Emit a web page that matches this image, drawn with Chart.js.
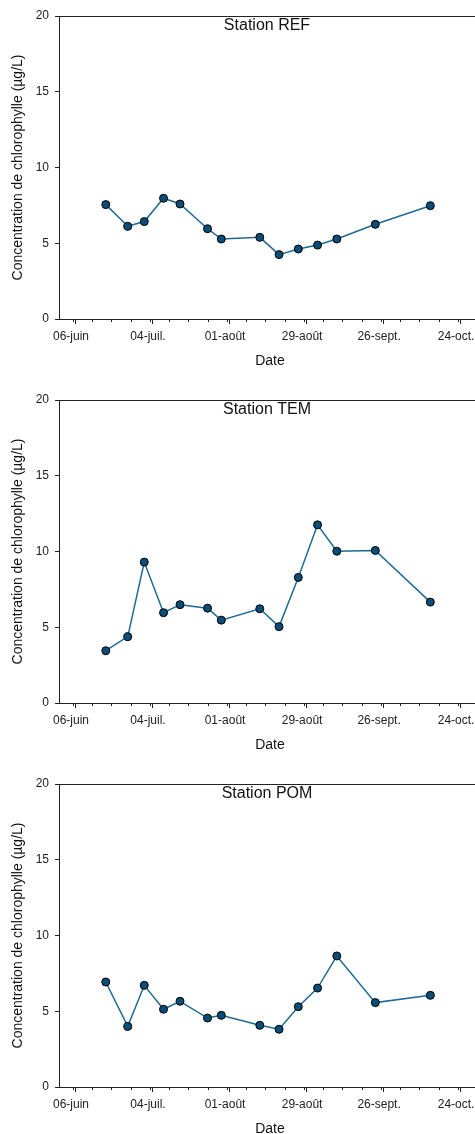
<!DOCTYPE html>
<html>
<head>
<meta charset="utf-8">
<script src="https://cdn.jsdelivr.net/npm/chart.js@4/dist/chart.umd.min.js"></script>
<style>
    body { margin: 0; background: #fff; overflow: hidden; width: 475px; }
    canvas { display: block; }
</style>
</head>
<body>
<canvas id="chartREF" width="525" height="384"></canvas>
<canvas id="chartTEM" width="525" height="384"></canvas>
<canvas id="chartPOM" width="525" height="384"></canvas>
<script>
// sampling days, counted from 06-juin
const sampleDays = [11, 19, 25, 32, 38, 48, 53, 67, 74, 81, 88, 95, 109, 129];

const refValues = [7.55, 6.12, 6.43, 7.97, 7.59, 5.96, 5.28, 5.39, 4.25, 4.62, 4.88, 5.28, 6.25, 7.48];
const temValues = [3.45, 4.38, 9.30, 5.96, 6.49, 6.26, 5.47, 6.22, 5.04, 8.29, 11.76, 10.02, 10.07, 6.66];
const pomValues = [6.93, 4.00, 6.71, 5.13, 5.66, 4.55, 4.73, 4.07, 3.81, 5.30, 6.53, 8.65, 5.57, 6.05];

const tickDays = [0, 28, 56, 84, 112, 140];
const tickLabels = ['06-juin', '04-juil.', '01-août', '29-août', '26-sept.', '24-oct.'];

const stations = [
    { id: 'chartREF', name: 'Station REF', values: refValues },
    { id: 'chartTEM', name: 'Station TEM', values: temValues },
    { id: 'chartPOM', name: 'Station POM', values: pomValues }
];

const FONT = '"Liberation Sans", Arial, sans-serif';
const AXIS_COLOR = '#222';
const VIEW_WIDTH = 475; // the page only shows this much of each panel

// station name, x title, top frame line and weekly minor ticks
const panelDecor = {
    id: 'panelDecor',
    afterDraw(chart, args, opts) {
        const { ctx, chartArea } = chart;
        const x = chart.scales.x;
        ctx.save();
        ctx.strokeStyle = AXIS_COLOR;
        ctx.lineWidth = 1;
        ctx.beginPath();
        ctx.moveTo(chartArea.left, chartArea.top + 0.5);
        ctx.lineTo(chartArea.right, chartArea.top + 0.5);
        for (let d = -1; d <= x.max; d += 7) {
            const px = Math.round(x.getPixelForValue(d)) + 0.5;
            if (px < chartArea.left) continue;
            ctx.moveTo(px, chartArea.bottom);
            ctx.lineTo(px, chartArea.bottom + 3);
        }
        ctx.stroke();

        const mid = (chartArea.left + Math.min(chartArea.right, VIEW_WIDTH)) / 2;
        ctx.fillStyle = '#111';
        ctx.textAlign = 'center';
        ctx.textBaseline = 'middle';
        ctx.font = '16px ' + FONT;
        ctx.fillText(opts.text, mid, chartArea.top + 10);
        ctx.font = '14px ' + FONT;
        ctx.fillText('Date', mid + 3, chartArea.bottom + 42);
        ctx.restore();
    }
};

function makeChart(station) {
    const ctx = document.getElementById(station.id).getContext('2d');
    const points = sampleDays.map((d, i) => ({ x: d, y: station.values[i] }));

    return new Chart(ctx, {
        type: 'line',
        data: {
            datasets: [{
                data: points,
                borderColor: '#1d6a95',
                borderWidth: 1.5,
                backgroundColor: '#0a4e78',
                pointBackgroundColor: '#0a4e78',
                pointBorderColor: '#000',
                pointBorderWidth: 1,
                pointRadius: 4,
                fill: false,
                tension: 0
            }]
        },
        plugins: [panelDecor],
        options: {
            responsive: false,
            animation: false,
            devicePixelRatio: 1,
            layout: { padding: { top: 16, right: 0, bottom: 0, left: 0 } },
            scales: {
                x: {
                    type: 'linear',
                    min: -6,
                    max: 161.6,
                    afterBuildTicks: (scale) => {
                        scale.ticks = tickDays.map(v => ({ value: v }));
                    },
                    afterFit: (scale) => {
                        scale.height = 65;
                    },
                    grid: {
                        drawOnChartArea: false,
                        drawTicks: true,
                        tickLength: 5,
                        color: AXIS_COLOR
                    },
                    border: { color: AXIS_COLOR, width: 1 },
                    ticks: {
                        autoSkip: false,
                        maxRotation: 0,
                        padding: 5,
                        labelOffset: -4.5,
                        color: '#222',
                        font: { family: FONT, size: 12 },
                        callback: (value) => tickLabels[tickDays.indexOf(value)]
                    },
                    title: { display: false }
                },
                y: {
                    min: 0,
                    max: 20,
                    afterFit: (scale) => {
                        scale.width = 59;
                    },
                    grid: {
                        drawOnChartArea: false,
                        drawTicks: true,
                        tickLength: 4,
                        color: AXIS_COLOR
                    },
                    border: { color: AXIS_COLOR, width: 1 },
                    ticks: {
                        stepSize: 5,
                        padding: 6,
                        color: '#222',
                        font: { family: FONT, size: 12 }
                    },
                    title: {
                        display: true,
                        text: 'Concentration de chlorophylle (µg/L)',
                        color: '#111',
                        font: { family: FONT, size: 14 },
                        padding: { top: 9.6, bottom: 0 }
                    }
                }
            },
            plugins: {
                legend: { display: false },
                tooltip: { enabled: false },
                panelDecor: { text: station.name }
            }
        }
    });
}

stations.forEach(makeChart);
</script>
</body>
</html>
